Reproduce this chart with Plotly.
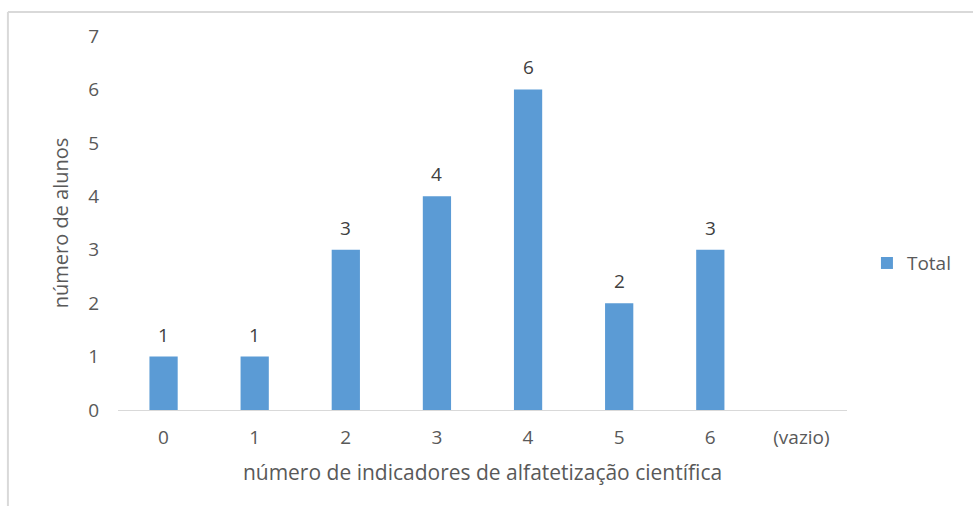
import plotly.graph_objects as go

categories = ["0", "1", "2", "3", "4", "5", "6", "(vazio)"]
totals = [1, 1, 3, 4, 6, 2, 3, None]
y_ticks = [0, 1, 2, 3, 4, 5, 6, 7]

bar_color = "#5b9bd5"
text_gray = "#595959"
label_gray = "#404040"
font_family = "Open Sans, Noto Sans, sans-serif"

fig = go.Figure()
fig.add_trace(go.Bar(
    x=categories,
    y=totals,
    name="Total",
    marker=dict(color=bar_color, line=dict(width=0)),
    cliponaxis=False,
))

# value labels above each bar
annotations = [
    dict(x=c, y=v, xref="x", yref="y", text=str(v), showarrow=False,
         yanchor="bottom", yshift=7,
         font=dict(size=19, color=label_gray, family=font_family))
    for c, v in zip(categories, totals) if v is not None
]

fig.update_layout(
    width=973,
    height=506,
    margin=dict(l=118, r=126, t=36, b=96, autoexpand=False),
    paper_bgcolor="white",
    plot_bgcolor="white",
    bargap=0.69,
    font=dict(family=font_family, color=text_gray, size=19),
    showlegend=True,
    legend=dict(
        xref="container", yref="container",
        x=0.891, y=0.48, xanchor="left", yanchor="middle",
        font=dict(size=19, color=text_gray),
        bgcolor="rgba(0,0,0,0)",
        itemwidth=30,
    ),
    annotations=annotations,
    xaxis=dict(
        type="category",
        categoryorder="array",
        categoryarray=categories,
        range=[-0.5, 7.5],
        showgrid=False,
        showline=True,
        linecolor="#d9d9d9",
        linewidth=1,
        ticks="",
        ticklabelstandoff=10,
        tickfont=dict(size=19, color=text_gray),
        title=dict(text="número de indicadores de alfatetização científica",
                   font=dict(size=21, color=text_gray), standoff=16),
    ),
    yaxis=dict(
        range=[0, 7],
        tickvals=y_ticks,
        showgrid=False,
        zeroline=False,
        showline=False,
        ticks="",
        ticklabelstandoff=18,
        tickfont=dict(size=19, color=text_gray),
        title=dict(text="número de alunos",
                   font=dict(size=20, color=text_gray), standoff=14),
    ),
    shapes=[
        dict(type="line", xref="paper", yref="paper",
             x0=-0.151, x1=1.3, y0=1.064, y1=1.064,
             line=dict(color="#d9d9d9", width=2)),
        dict(type="line", xref="paper", yref="paper",
             x0=-0.151, x1=-0.151, y0=1.064, y1=-0.4,
             line=dict(color="#d9d9d9", width=2)),
    ],
)

fig.write_html("out.html")
